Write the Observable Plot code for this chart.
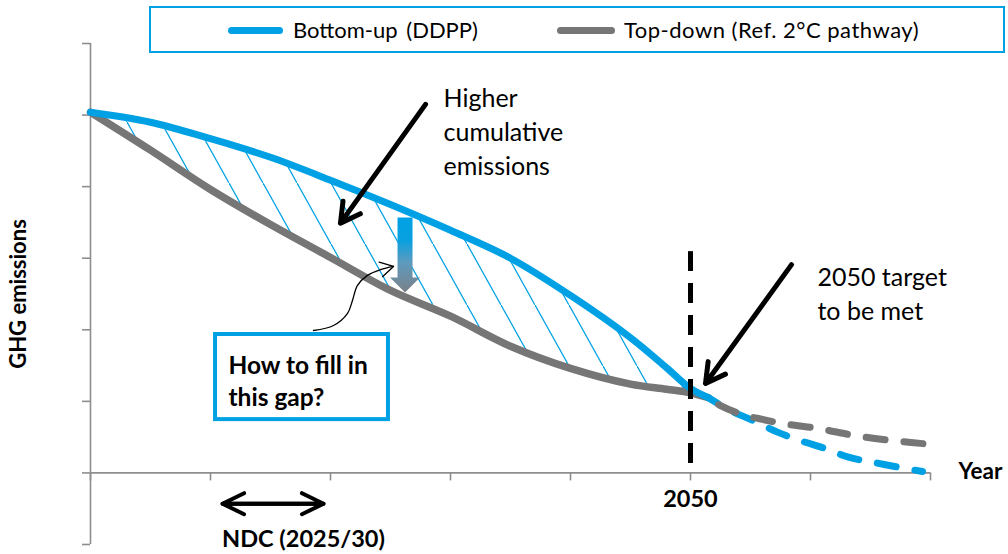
<!DOCTYPE html>
<html><head><meta charset="utf-8">
<script src="https://cdn.jsdelivr.net/npm/d3@7"></script>
<script src="https://cdn.jsdelivr.net/npm/@observablehq/plot@0.6"></script>
<style>
body{margin:0;background:#fff;font-family:Lato,sans-serif;}
#wrap{position:relative;width:1008px;height:554px;}
#legend{position:absolute;left:149px;top:6px;width:852px;height:43px;border:2px solid #00A1E4;background:#fff;}
#legend .sw{position:absolute;top:18.5px;height:7px;border-radius:3.5px;}
#legend .lt{position:absolute;top:10.5px;font:22px Lato,sans-serif;line-height:22px;white-space:pre;color:#000;}
</style></head><body>
<div id="wrap"><div id="chart"></div>
<div id="legend">
  <span class="sw" style="left:77px;width:55px;background:#00A1E4"></span>
  <span class="lt" style="left:142px;word-spacing:3px">Bottom-up (DDPP)</span>
  <span class="sw" style="left:406px;width:58px;background:#767676"></span>
  <span class="lt" style="left:473px;letter-spacing:0.5px">Top-down (Ref. 2°C pathway)</span>
</div></div>
<script>
// ---- data (conceptual units: year on x, emission index on y) ----
const solidYears     = [2000, 2005, 2010, 2015, 2020, 2025, 2030, 2035, 2040, 2045, 2048, 2050, 2051.5];
const bottomUpSolid  = [5.04, 4.90, 4.67, 4.41, 4.09, 3.75, 3.39, 3.00, 2.48, 1.89, 1.47, 1.18, 1.05];
const topDownSolid   = [5.04, 4.51, 3.96, 3.47, 3.01, 2.55, 2.19, 1.77, 1.46, 1.24, 1.17, 1.12, 1.05];
const bottomUpDashYears = [2051.5, 2053.33, 2055.25, 2057.25, 2059.17, 2061.25, 2063.17, 2065.17, 2067.33, 2069.33];
const bottomUpDash      = [1.05, 0.87, 0.73, 0.57, 0.45, 0.34, 0.22, 0.15, 0.08, 0.02];
const topDownDashYears  = [2051.5, 2052.5, 2054.58, 2055.67, 2057.67, 2060.67, 2063.75, 2066.92, 2070];
const topDownDash       = [1.05, 0.94, 0.80, 0.76, 0.69, 0.62, 0.52, 0.45, 0.40];
const xTicks = [2000, 2010, 2020, 2030, 2040, 2050, 2060, 2070];
const yTicks = [-1, 0, 1, 2, 3, 4, 5, 6];
const targetYear = 2050;
const targetLine = [0.13, 3.21];
// annotations
const calloutArrows = [
  {x1: 2027.92, y1: 5.15, x2: 2020.83, y2: 3.49},
  {x1: 2058.42, y1: 2.91, x2: 2051.25, y2: 1.25}
];
const ndcSpan = [2011.0, 2019.42];
const ndcLevel = -0.43;
const connectorX = [2018.58, 2020.25, 2021.42, 2021.83, 2022.25, 2023.08, 2024.17, 2025.25];
const connectorY = [1.99, 2.06, 2.23, 2.41, 2.62, 2.76, 2.84, 2.885];
const connectorTipAngle = 77;
const gapArrow = {x: 2026.21, y: 3.57};
const gapBox = {x1: 2010.42, x2: 2024.83, y1: 1.934, y2: 0.745};
const notes = [
  {x: 2029.42, y: 5.455, text: "Higher\ncumulative\nemissions"},
  {x: 2060.58, y: 2.954, text: "2050 target\nto be met"}
];
const boxText = {x: 2011.5, y: 1.711, text: "How to fill in\nthis gap?"};
const xLabels = [
  {x: 2050, y: -0.245, text: "2050"},
  {x: 2017.75, y: -0.804, text: "NDC (2025/30)"}
];
const xTitle = {x: 2072.33, y: 0.132, text: "Year"};
const yLabel = {x: 1994, y: 2.5, text: "GHG emissions"};

// ---- styles ----
const blue = "#00A1E4", gray = "#767676", axisColor = "#8E8E8E";
const curve = "catmull-rom";

const gapTable = solidYears.map((year, i) => ({year, bottomUp: bottomUpSolid[i], topDown: topDownSolid[i]}));
const toPts = (xs, ys) => xs.map((x, i) => ({x, y: ys[i]}));

const vHead = {draw(ctx, l) {
  const a = 30 * Math.PI / 180;
  ctx.moveTo(-l * Math.sin(a), l * Math.cos(a));
  ctx.lineTo(0, 0);
  ctx.lineTo(l * Math.sin(a), l * Math.cos(a));
}};
const blockArrow = {draw(ctx, l) {
  const sw = 7.5, hw = 15, hh = 15;
  ctx.moveTo(-sw, 0); ctx.lineTo(sw, 0); ctx.lineTo(sw, l - hh); ctx.lineTo(hw, l - hh);
  ctx.lineTo(0, l); ctx.lineTo(-hw, l - hh); ctx.lineTo(-sw, l - hh); ctx.closePath();
}};

const chart = Plot.plot({
  width: 1008, height: 554,
  marginLeft: 90, marginRight: 78, marginTop: 43, marginBottom: 10,
  x: {domain: [2000, 2070], axis: null},
  y: {domain: [-1, 6], axis: null},
  style: {fontFamily: "Lato, sans-serif", background: "white", overflow: "visible", color: "black"},
  marks: [
    Plot.areaY(gapTable, {x: "year", y1: "topDown", y2: "bottomUp", fill: "url(#hatch)", curve}),
    // axes
    Plot.ruleX([2000], {y1: -1, y2: 6, stroke: axisColor, strokeWidth: 1.6}),
    Plot.ruleY(yTicks, {y: d => d, x1: 2000, x2: 2000, insetLeft: -8, stroke: axisColor, strokeWidth: 1.6}),
    Plot.ruleY([0], {x1: 2000, x2: 2070, stroke: axisColor, strokeWidth: 1.8}),
    Plot.ruleX(xTicks, {x: d => d, y1: 0, y2: 0, insetBottom: -8, stroke: axisColor, strokeWidth: 1.6}),
    // pathways
    Plot.line(toPts(solidYears, topDownSolid), {x: "x", y: "y", stroke: gray, strokeWidth: 7.5, curve, strokeLinecap: "round"}),
    Plot.line(toPts(solidYears, bottomUpSolid), {x: "x", y: "y", stroke: blue, strokeWidth: 7, curve, strokeLinecap: "round"}),
    Plot.line(toPts(bottomUpDashYears, bottomUpDash), {x: "x", y: "y", stroke: blue, strokeWidth: 7, curve, strokeLinecap: "round", strokeDasharray: "19 19", strokeDashoffset: -30}),
    Plot.line(toPts(topDownDashYears, topDownDash), {x: "x", y: "y", stroke: gray, strokeWidth: 7, curve, strokeLinecap: "round", strokeDasharray: "19 19", strokeDashoffset: -12}),
    Plot.ruleX([targetYear], {y1: targetLine[0], y2: targetLine[1], stroke: "black", strokeWidth: 5, strokeDasharray: "20 12"}),
    // arrows
    Plot.arrow(calloutArrows, {x1: "x1", y1: "y1", x2: "x2", y2: "y2", stroke: "black", strokeWidth: 5, headLength: 6.6, headAngle: 58}),
    Plot.arrow([{a: ndcSpan[0], b: ndcSpan[1]}, {a: ndcSpan[1], b: ndcSpan[0]}], {x1: "a", x2: "b", y1: ndcLevel, y2: ndcLevel, stroke: "black", strokeWidth: 4, headLength: 9, headAngle: 52}),
    Plot.line(toPts(connectorX, connectorY), {x: "x", y: "y", stroke: "black", strokeWidth: 1.3, curve}),
    Plot.vector([{x: connectorX.at(-1), y: connectorY.at(-1)}], {x: "x", y: "y", length: 15, rotate: connectorTipAngle, anchor: "start", shape: vHead, stroke: "black", strokeWidth: 1.3, fill: "none"}),
    Plot.vector([gapArrow], {x: "x", y: "y", length: 75, anchor: "start", shape: blockArrow, fill: "url(#gapGrad)", stroke: "none"}),
    Plot.rect([gapBox], {x1: "x1", x2: "x2", y1: "y1", y2: "y2", fill: "white", stroke: blue, strokeWidth: 4}),
    // texts
    Plot.text(notes, {x: "x", y: "y", text: "text", textAnchor: "start", lineAnchor: "top", fontSize: 25, lineHeight: 1.37, fill: "black"}),
    Plot.text([boxText], {x: "x", y: "y", text: "text", textAnchor: "start", lineAnchor: "top", fontSize: 24.5, fontWeight: "bold", lineHeight: 1.33, fill: "black"}),
    Plot.text(xLabels, {x: "x", y: "y", text: "text", textAnchor: "middle", lineAnchor: "top", fontSize: 23.5, fontWeight: "bold", fill: "black"}),
    Plot.text([xTitle], {x: "x", y: "y", text: "text", textAnchor: "start", lineAnchor: "top", fontSize: 22.5, fontWeight: "bold", fill: "black"}),
    Plot.text([yLabel], {x: "x", y: "y", text: "text", rotate: -90, textAnchor: "middle", lineAnchor: "middle", fontSize: 22, fontWeight: "bold", fill: "black"})
  ]
});

const svg = d3.select(chart);
const defs = svg.insert("defs", ":first-child");
const pat = defs.append("pattern").attr("id", "hatch").attr("patternUnits", "userSpaceOnUse")
  .attr("x", 25).attr("y", 0).attr("width", 34).attr("height", 61);
pat.append("line").attr("x1", 0).attr("y1", 0).attr("x2", 34).attr("y2", 61).attr("stroke", blue).attr("stroke-width", 1.3);
const grad = defs.append("linearGradient").attr("id", "gapGrad").attr("x1", 0).attr("y1", 0).attr("x2", 0).attr("y2", 1);
[[0, "#00A1E4"], [0.3, "#08A0E0"], [0.6, "#5D9BBE"], [1, "#7B8088"]].forEach(([o, c]) =>
  grad.append("stop").attr("offset", o).attr("stop-color", c));
document.getElementById("chart").appendChild(chart);
</script>
</body></html>
